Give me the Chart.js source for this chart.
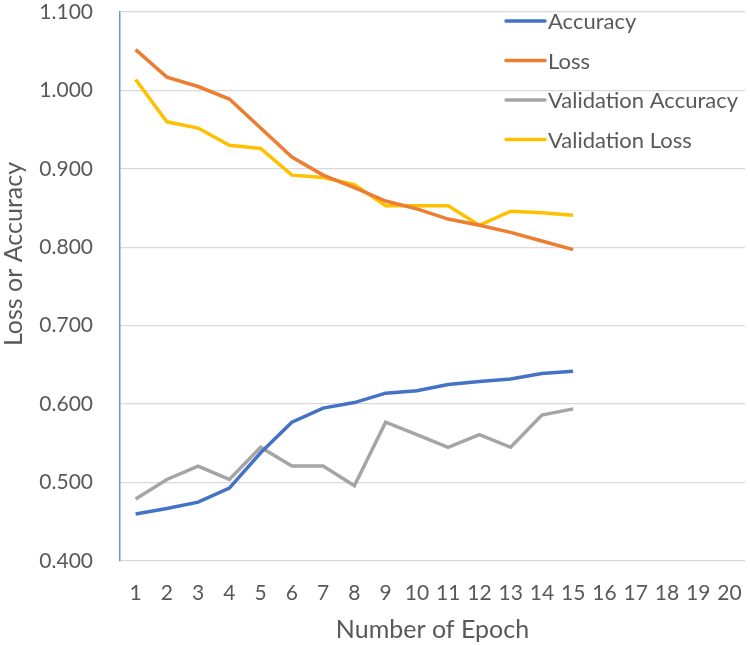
<!DOCTYPE html>
<html>
<head>
<meta charset="utf-8">
<script src="https://cdn.jsdelivr.net/npm/chart.js@4/dist/chart.umd.min.js"></script>
<style>
  html, body { margin: 0; padding: 0; background: #fff; }
  #wrap { width: 750px; height: 645px; }
</style>
</head>
<body>
<div id="wrap"><canvas id="chart"></canvas></div>
<script>
const epochs = [1, 2, 3, 4, 5, 6, 7, 8, 9, 10, 11, 12, 13, 14, 15, 16, 17, 18, 19, 20];
const accuracy = [0.460, 0.467, 0.475, 0.493, 0.538, 0.577, 0.595, 0.602, 0.614, 0.617, 0.625, 0.629, 0.632, 0.639, 0.642];
const loss = [1.052, 1.017, 1.005, 0.989, 0.952, 0.915, 0.892, 0.876, 0.859, 0.849, 0.836, 0.828, 0.819, 0.808, 0.797];
const valAccuracy = [0.479, 0.504, 0.521, 0.504, 0.545, 0.521, 0.521, 0.496, 0.577, 0.561, 0.545, 0.561, 0.545, 0.586, 0.594];
const valLoss = [1.014, 0.960, 0.952, 0.930, 0.926, 0.892, 0.889, 0.880, 0.853, 0.853, 0.853, 0.828, 0.846, 0.844, 0.841];
const yTitle = "Loss or Accuracy";

const FONT = "Lato, 'Open Sans', sans-serif";
const TEXT = "#595959";

// Excel-style legend inside the top right of the plot, plus the y title
const extras = {
  id: "extras",
  afterDraw(chart) {
    const ctx = chart.ctx;
    ctx.save();
    ctx.font = "22px " + FONT;
    ctx.textBaseline = "middle";
    chart.data.datasets.forEach((ds, i) => {
      const y = 21 + i * 39.5;
      ctx.strokeStyle = ds.borderColor;
      ctx.lineWidth = 3.5;
      ctx.lineCap = "round";
      ctx.beginPath();
      ctx.moveTo(506, y);
      ctx.lineTo(545, y);
      ctx.stroke();
      ctx.fillStyle = TEXT;
      ctx.fillText(ds.label, 548, y + 1);
    });

    ctx.translate(14, 254);
    ctx.rotate(-Math.PI / 2);
    ctx.textAlign = "center";
    ctx.font = "25px " + FONT;
    ctx.fillText(yTitle, 0, 0);
    ctx.restore();
  }
};

const line = (label, data, color) => ({
  label: label,
  data: data,
  borderColor: color,
  backgroundColor: color,
  borderWidth: 3.5,
  pointRadius: 0,
  tension: 0,
  fill: false,
});

new Chart(document.getElementById("chart"), {
  type: "line",
  data: {
    labels: epochs,
    datasets: [
      line("Accuracy", accuracy, "#4472C4"),
      line("Loss", loss, "#ED7D31"),
      line("Validation Accuracy", valAccuracy, "#A5A5A5"),
      line("Validation Loss", valLoss, "#FFC000"),
    ],
  },
  options: {
    responsive: true,
    maintainAspectRatio: false,
    animation: false,
    layout: { padding: { top: 12, right: 5, left: 0, bottom: 0 } },
    plugins: {
      legend: { display: false },
      tooltip: { enabled: false },
    },
    scales: {
      x: {
        offset: true,
        grid: { display: false, drawTicks: false },
        border: { display: false },
        ticks: { color: TEXT, font: { family: FONT, size: 21 }, padding: 20, autoSkip: false, maxRotation: 0 },
        title: { display: true, text: "Number of Epoch", color: TEXT, font: { family: FONT, size: 25 }, padding: { top: 4, bottom: 0 } },
        afterFit(scale) {
          scale.height = 84;
          scale.paddingLeft = 0;
          scale.paddingRight = 0;
        },
      },
      y: {
        min: 0.4,
        max: 1.1,
        grid: { color: "#D9D9D9", lineWidth: 1.3, drawTicks: false },
        border: { display: true, color: "#6F93D6", width: 1.5 },
        ticks: {
          stepSize: 0.1,
          color: TEXT,
          font: { family: FONT, size: 21 },
          padding: 27,
          callback: (v) => v.toFixed(3),
        },
        afterFit(scale) {
          scale.width = 120;
          scale.paddingTop = 0;
          scale.paddingBottom = 0;
        },
      },
    },
  },
  plugins: [extras],
});
</script>
</body>
</html>
